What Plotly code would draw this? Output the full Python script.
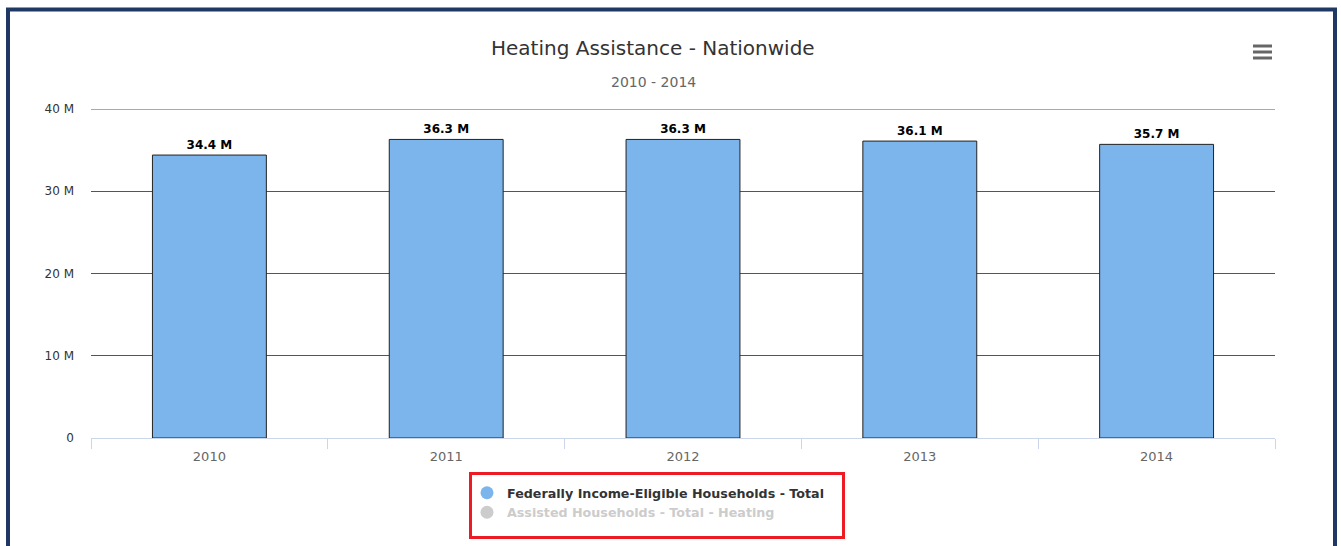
import plotly.graph_objects as go

years = ["2010", "2011", "2012", "2013", "2014"]
eligible_households = [34.4e6, 36.3e6, 36.3e6, 36.1e6, 35.7e6]
bar_labels = ["34.4 M", "36.3 M", "36.3 M", "36.1 M", "35.7 M"]
y_tick_values = [0, 10e6, 20e6, 30e6, 40e6]
y_tick_labels = ["0", "10 M", "20 M", "30 M", "40 M"]
series_names = ["Federally Income-Eligible Households - Total",
                "Assisted Households - Total - Heating"]
title_text = "Heating Assistance - Nationwide"
subtitle_text = "2010 - 2014"

W, H = 1341, 546
# plot area in page pixels
L, R, T, B = 91, 1275, 109, 438
pw, ph = R - L, B - T


def px_x(x):
    return (x - L) / pw


def px_y(y):
    return (B - y) / ph


fig = go.Figure()
fig.add_trace(go.Bar(
    x=years, y=eligible_households, text=bar_labels,
    textposition="outside", cliponaxis=False,
    textfont=dict(family="DejaVu Sans", size=12, color="#000000", weight="bold"),
    marker=dict(color="#7cb5ec", line=dict(color="#222222", width=1)),
    showlegend=False, hoverinfo="x+y",
))
# legend entries
fig.add_trace(go.Scatter(
    x=[None], y=[None], mode="markers", name="<b>" + series_names[0] + "</b>",
    marker=dict(symbol="circle", size=13, color="#7cb5ec"),
))
fig.add_trace(go.Scatter(
    x=[None], y=[None], mode="markers",
    name="<b><span style='color:#cccccc'>" + series_names[1] + "</span></b>",
    marker=dict(symbol="circle", size=13, color="#cccccc"),
))

shapes = []
# top gridline (40 M)
shapes.append(dict(type="line", xref="paper", yref="y", x0=0, x1=1,
                   y0=y_tick_values[-1], y1=y_tick_values[-1],
                   line=dict(color="#555555", width=1), layer="below"))
# navy outer border
shapes.append(dict(type="rect", xref="paper", yref="paper",
                   x0=px_x(8), x1=px_x(1335), y0=px_y(620), y1=px_y(9.5),
                   line=dict(color="#1f3864", width=4), layer="above"))
# red highlight box around legend
shapes.append(dict(type="rect", xref="paper", yref="paper",
                   x0=px_x(470.5), x1=px_x(843.5), y0=px_y(537.5), y1=px_y(473.5),
                   line=dict(color="#ed1c24", width=3), layer="above"))
# hamburger menu icon
for yy in (46, 52, 58):
    shapes.append(dict(type="line", xref="paper", yref="paper",
                       x0=px_x(1253), x1=px_x(1272), y0=px_y(yy), y1=px_y(yy),
                       line=dict(color="#666666", width=3), layer="above"))

fig.update_layout(
    width=W, height=H,
    margin=dict(l=L, r=W - R, t=T, b=H - B, pad=0),
    paper_bgcolor="white", plot_bgcolor="white",
    font=dict(family="DejaVu Sans", size=12, color="#333333"),
    bargap=0.519,
    showlegend=True,
    legend=dict(x=px_x(467), y=px_y(478), xanchor="left", yanchor="top",
                orientation="v", bgcolor="rgba(0,0,0,0)",
                font=dict(family="DejaVu Sans", size=12.7, color="#333333"),
                itemwidth=30, tracegroupgap=0),
    xaxis=dict(type="category", showgrid=False, showline=True,
               linecolor="#ccd6eb", linewidth=1, ticks="outside",
               tickson="boundaries", ticklen=10, tickcolor="#ccd6eb",
               ticklabelstandoff=6,
               tickfont=dict(family="DejaVu Sans", size=13, color="#666666"),
               fixedrange=True),
    yaxis=dict(range=[0, 40e6], tickvals=y_tick_values, ticktext=y_tick_labels,
               showgrid=True, gridcolor="#555555", gridwidth=1, zeroline=False,
               showline=False, ticks="", ticklabelstandoff=16,
               tickfont=dict(family="DejaVu Sans", size=12, color="#333333"),
               fixedrange=True),
    shapes=shapes,
    annotations=[
        dict(text=title_text, xref="paper", yref="paper", x=px_x(653), y=px_y(48),
             xanchor="center", yanchor="middle", showarrow=False,
             font=dict(family="DejaVu Sans", size=20, color="#333333")),
        dict(text=subtitle_text, xref="paper", yref="paper", x=px_x(653), y=px_y(82),
             xanchor="center", yanchor="middle", showarrow=False,
             font=dict(family="DejaVu Sans", size=14, color="#666666")),
    ],
)

fig.write_html(
    "out.html",
    config={"displayModeBar": False},
    post_script="document.body.style.margin='0';document.body.style.overflow='hidden';",
)
